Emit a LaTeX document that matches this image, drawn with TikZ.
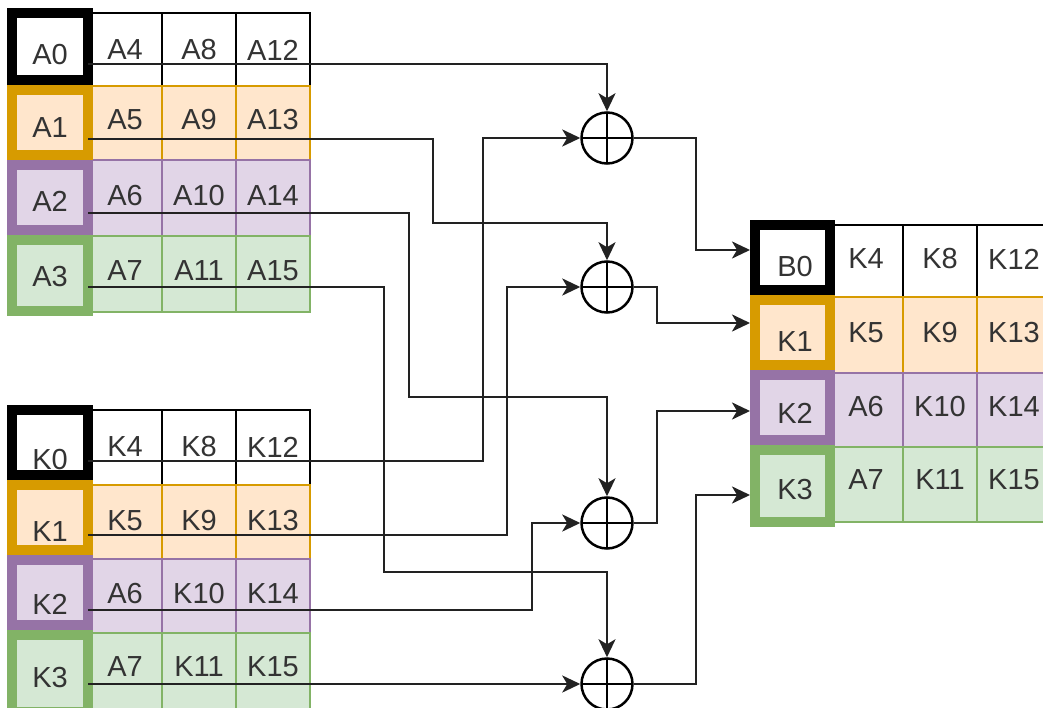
\documentclass[tikz,border=0pt]{standalone}
\usepackage{fontspec}
\setmainfont{Liberation Sans}
\usetikzlibrary{arrows.meta,calc}
\definecolor{orF}{HTML}{FFE6CC}
\definecolor{orD}{HTML}{D79B00}
\definecolor{puF}{HTML}{E1D5E7}
\definecolor{puD}{HTML}{9673A6}
\definecolor{grF}{HTML}{D5E8D4}
\definecolor{grD}{HTML}{82B366}
\definecolor{txtc}{HTML}{333333}
\definecolor{wirec}{HTML}{222222}
\tikzset{
  cellbox/.style={line width=1.3pt},
  thickbox/.style={line width=10.5pt},
  txt/.style={text=txtc,font=\fontsize{29}{29}\selectfont,inner sep=0pt,anchor=center},
  xorop/.style={circle,draw=black,line width=2.5pt,minimum size=51pt,inner sep=0pt,
    path picture={\draw[line width=2.5pt] (path picture bounding box.north) -- (path picture bounding box.south)
      (path picture bounding box.west) -- (path picture bounding box.east);}},
  wire/.style={draw=wirec,line width=2.6pt,-{Stealth[length=18pt,width=17pt,inset=5pt]}},
}
\begin{document}
\begin{tikzpicture}[x=1pt,y=-1pt]
\useasboundingbox (0,0) rectangle (1043,708);
\clip (0,0) rectangle (1043,708);
\fill[white] (0,0) rectangle (1043,708);

% ---------- A table ----------
\foreach \ya/\yb/\fc/\dc in {13/86/white/black,86/160/orF/orD,160/236/puF/puD,236/312/grF/grD}
  \foreach \xa/\xb in {88/162,162/236,236/310}
    \filldraw[cellbox,fill=\fc,draw=\dc] (\xa,\ya) rectangle (\xb,\yb);
\foreach \ya/\yb/\fc/\dc in {13/80/white/black,90/155/orF/orD,165/230/puF/puD,240/311/grF/grD}
  \filldraw[thickbox,fill=\fc,draw=\dc] (12,\ya) rectangle (88,\yb);

% ---------- K table ----------
\foreach \ya/\yb/\fc/\dc in {410/485/white/black,485/559/orF/orD,559/633/puF/puD,633/712/grF/grD}
  \foreach \xa/\xb in {88/162,162/236,236/310}
    \filldraw[cellbox,fill=\fc,draw=\dc] (\xa,\ya) rectangle (\xb,\yb);
\foreach \ya/\yb/\fc/\dc in {410/475/white/black,485/550/orF/orD,560/625/puF/puD,635/712/grF/grD}
  \filldraw[thickbox,fill=\fc,draw=\dc] (12,\ya) rectangle (88,\yb);

% ---------- B table ----------
\foreach \ya/\yb/\fc/\dc in {225/297/white/black,297/373/orF/orD,373/447/puF/puD,447/522/grF/grD}
  \foreach \xa/\xb in {829/903,903/977,977/1051}
    \filldraw[cellbox,fill=\fc,draw=\dc] (\xa,\ya) rectangle (\xb,\yb);
\foreach \ya/\yb/\fc/\dc in {225/290/white/black,300/365/orF/orD,375/440/puF/puD,450/522/grF/grD}
  \filldraw[thickbox,fill=\fc,draw=\dc] (755,\ya) rectangle (830,\yb);

% ---------- texts ----------
\foreach \n/\t/\x/\y in {
  a0/A0/50/55, a4/A4/125/50, a8/A8/199/50, a12/A12/273/50,
  a1/A1/50/128, a5/A5/125/120, a9/A9/199/120, a13/A13/273/120,
  a2/A2/50/201, a6/A6/125/196, a10/A10/199/196, a14/A14/273/196,
  a3/A3/50/277, a7/A7/125/271, a11/A11/199/271, a15/A15/273/271,
  k0/K0/50/460, k4/K4/125/447, k8/K8/199/447, k12/K12/273/447,
  k1/K1/50/532, k5/K5/125/521, k9/K9/199/521, k13/K13/273/521,
  k2/K2/50/604, k6/A6/125/594, k10/K10/199/594, k14/K14/273/594,
  k3/K3/50/678, k7/A7/125/667, k11/K11/199/667, k15/K15/273/667,
  b0/B0/795/267, b4/K4/866/259, b8/K8/940/259, b12/K12/1014/259,
  b1/K1/795/342, b5/K5/866/333, b9/K9/940/333, b13/K13/1014/333,
  b2/K2/795/413, b6/A6/866/407, b10/K10/940/407, b14/K14/1014/407,
  b3/K3/795/490, b7/A7/866/480, b11/K11/940/480, b15/K15/1014/480}
  \node[txt] (t\n) at (\x,\y) {\t};

% ---------- xor nodes ----------
\node[xorop] (x1) at (607,138) {};
\node[xorop] (x2) at (607,287) {};
\node[xorop] (x3) at (607,523) {};
\node[xorop] (x4) at (607,684) {};

% ---------- connector ends ----------
\coordinate (sa0) at (88,64);
\coordinate (sa1) at (88,139);
\coordinate (sa2) at (88,213);
\coordinate (sa3) at (88,287);
\coordinate (sk0) at (88,461);
\coordinate (sk1) at (88,535);
\coordinate (sk2) at (88,610);
\coordinate (sk3) at (88,684);
\coordinate (eb0) at (750,250);
\coordinate (eb1) at (750,323);
\coordinate (eb2) at (750,411);
\coordinate (eb3) at (750,495);

% ---------- connectors ----------
\draw[wire] (sa0) -| (x1.north);
\draw[wire] (sa1) -- (433,139) |- (607,223) -- (x2.north);
\draw[wire] (sa2) -- (409,213) |- (607,397) -- (x3.north);
\draw[wire] (sa3) -- (384,287) |- (607,572) -- (x4.north);
\draw[wire] (sk0) -- (483,461) |- (x1.west);
\draw[wire] (sk1) -- (507,535) |- (x2.west);
\draw[wire] (sk2) -- (532,610) |- (x3.west);
\draw[wire] (sk3) -- (x4.west);
\draw[wire] (x1.east) -- (696,138) |- (eb0);
\draw[wire] (x2.east) -- (657,287) |- (eb1);
\draw[wire] (x3.east) -- (657,523) |- (eb2);
\draw[wire] (x4.east) -- (696,684) |- (eb3);
\end{tikzpicture}
\end{document}
